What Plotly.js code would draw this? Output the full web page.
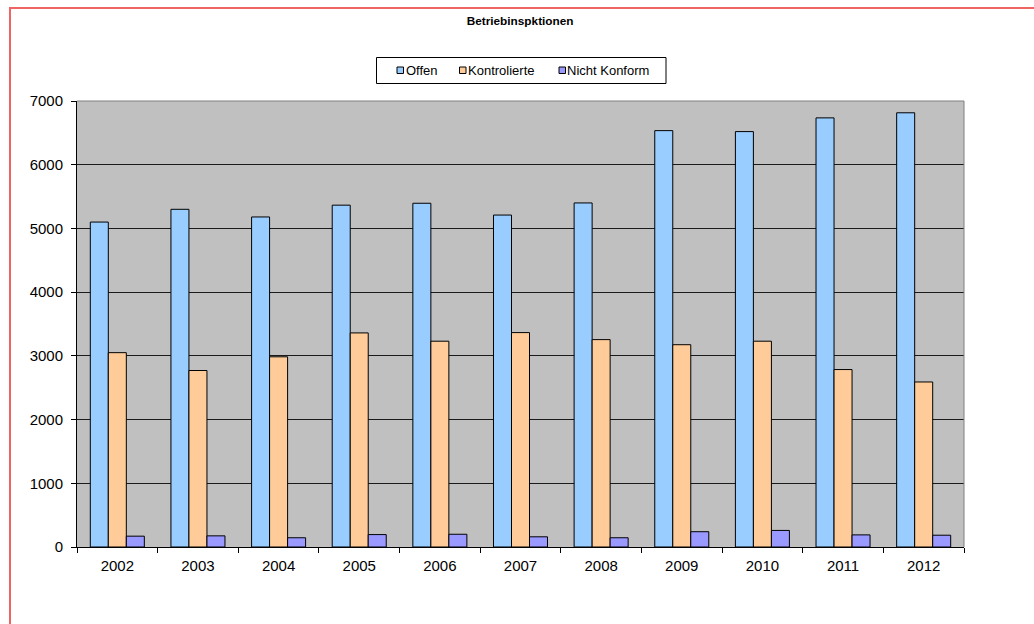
<!DOCTYPE html>
<html>
<head>
<meta charset="utf-8">
<script src="https://cdn.plot.ly/plotly-3.0.1.min.js"></script>
<style>
  html, body { margin: 0; padding: 0; background: #ffffff; overflow: hidden; }
  #frame { position: absolute; left: 9px; top: 7px; width: 1100px; height: 700px;
           border-top: 2px solid #f06464; border-left: 2px solid #f06464; pointer-events: none; z-index: 5; }
  #chart { position: absolute; left: 0; top: 0; width: 1034px; height: 624px; }
</style>
</head>
<body>
<div id="chart"></div>
<div id="frame"></div>
<script>
const years = ['2002','2003','2004','2005','2006','2007','2008','2009','2010','2011','2012'];
const offen = [5100, 5300, 5180, 5365, 5395, 5210, 5400, 6535, 6520, 6735, 6815];
const kontrolierte = [3050, 2770, 2985, 3360, 3230, 3365, 3255, 3175, 3230, 2785, 2590];
const nichtKonform = [170, 175, 145, 195, 200, 160, 145, 240, 260, 190, 185];
const seriesNames = ['Offen', 'Kontrolierte', 'Nicht Konform'];
const yTicks = [0, 1000, 2000, 3000, 4000, 5000, 6000, 7000];

const fontFam = 'Liberation Sans, Arial, sans-serif';
const colors = ['#99ccff', '#ffcc99', '#9999ff'];
const data = [offen, kontrolierte, nichtKonform].map((vals, i) => ({
  type: 'bar', x: years, y: vals, name: seriesNames[i],
  marker: { color: colors[i], line: { color: '#000000', width: 1 } },
  hoverinfo: 'x+y+name'
}));

// plot area in pixels
const L = 77, R = 964, T = 101, B = 547;
const W = 1034, H = 624;
const px = v => (v - L) / (R - L);
const py = v => (B - v) / (B - T);

const shapes = [
  { type: 'line', xref: 'paper', yref: 'paper', x0: 0, x1: 1, y0: 1, y1: 1, line: { color: '#808080', width: 1 } },
  { type: 'line', xref: 'paper', yref: 'paper', x0: 1, x1: 1, y0: 0, y1: 1, line: { color: '#808080', width: 1 } },
  // legend box
  { type: 'rect', xref: 'paper', yref: 'paper', x0: px(376.5), x1: px(666), y0: py(57.5), y1: py(83.5),
    fillcolor: '#ffffff', line: { color: '#000000', width: 1 } }
];
const annotations = [];
const iconX = [397, 459.5, 559];
const textX = [403.5, 465.5, 564.5];
seriesNames.forEach((name, i) => {
  shapes.push({ type: 'rect', xref: 'paper', yref: 'paper',
    x0: px(iconX[i]), x1: px(iconX[i] + 6.5), y0: py(67), y1: py(73.5),
    fillcolor: colors[i], line: { color: '#000000', width: 1 } });
  annotations.push({ xref: 'paper', yref: 'paper', x: px(textX[i]), y: py(70.5),
    xanchor: 'left', yanchor: 'middle', text: name, showarrow: false,
    font: { family: fontFam, size: 13, color: '#000000' } });
});

const layout = {
  width: W, height: H,
  margin: { l: L, r: W - R, t: T, b: H - B },
  paper_bgcolor: '#ffffff',
  plot_bgcolor: '#c0c0c0',
  barmode: 'group', bargap: 0.33, bargroupgap: 0,
  font: { family: fontFam, size: 12, color: '#000000' },
  title: { text: '<b>Betriebinspktionen</b>', x: 0.503, xanchor: 'center', y: 0.966, yanchor: 'middle',
           font: { family: fontFam, size: 11.8, color: '#000000' } },
  showlegend: false,
  xaxis: { type: 'category', tickson: 'boundaries', ticks: 'outside', ticklen: 5, tickcolor: '#000000',
           showline: true, linecolor: '#000000', linewidth: 1, showgrid: false, ticklabelstandoff: 5,
           tickfont: { family: fontFam, size: 15 }, fixedrange: true },
  yaxis: { range: [0, 7000], tickvals: yTicks, ticktext: yTicks.map(String), ticks: 'outside', ticklen: 5,
           tickcolor: '#000000', showline: true, linecolor: '#000000', linewidth: 1, ticklabelstandoff: 5,
           showgrid: true, gridcolor: '#1a1a1a', gridwidth: 1, zeroline: false,
           tickfont: { family: fontFam, size: 15 }, fixedrange: true },
  shapes: shapes,
  annotations: annotations
};

Plotly.newPlot('chart', data, layout, { displayModeBar: false });
</script>
</body>
</html>
